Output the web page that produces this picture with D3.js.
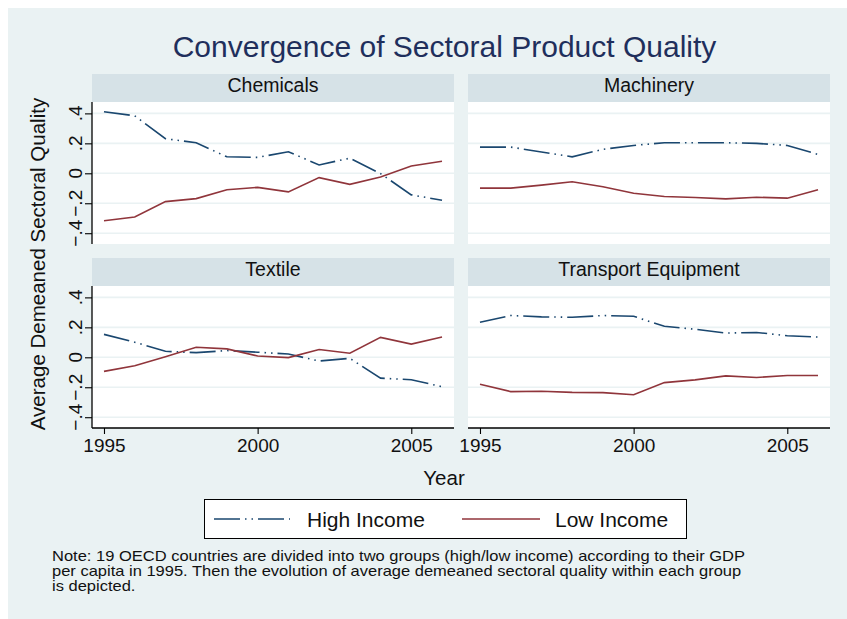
<!DOCTYPE html>
<html>
<head>
<meta charset="utf-8">
<script src="https://cdn.jsdelivr.net/npm/d3@7"></script>
<style>
  body { margin: 0; background: #fff; }
  text { font-family: "Liberation Sans", Arial, sans-serif; }
</style>
</head>
<body>
<div class="chart"></div>
<script>
var width = 847;
var height = 619;

// data
var years = [1995, 1996, 1997, 1998, 1999, 2000, 2001, 2002, 2003, 2004, 2005, 2006];
var sectors = ["Chemicals", "Machinery", "Textile", "Transport Equipment"];
var seriesNames = ["High Income", "Low Income"];

var chemicalsHigh = [0.411, 0.384, 0.231, 0.204, 0.110, 0.106, 0.144, 0.056, 0.101, -0.002, -0.144, -0.180];
var chemicalsLow  = [-0.317, -0.292, -0.189, -0.169, -0.110, -0.094, -0.124, -0.029, -0.074, -0.025, 0.049, 0.081];
var machineryHigh = [0.175, 0.175, 0.142, 0.110, 0.160, 0.186, 0.204, 0.204, 0.204, 0.200, 0.186, 0.126];
var machineryLow  = [-0.099, -0.099, -0.079, -0.056, -0.090, -0.133, -0.155, -0.162, -0.171, -0.160, -0.166, -0.110];
var textileHigh   = [0.153, 0.101, 0.040, 0.031, 0.045, 0.034, 0.022, -0.025, -0.007, -0.139, -0.150, -0.196];
var textileLow    = [-0.094, -0.056, 0.004, 0.067, 0.056, 0.009, -0.002, 0.052, 0.027, 0.133, 0.088, 0.135];
var transportHigh = [0.234, 0.279, 0.270, 0.267, 0.279, 0.274, 0.207, 0.187, 0.162, 0.166, 0.144, 0.135];
var transportLow  = [-0.180, -0.229, -0.227, -0.234, -0.236, -0.250, -0.169, -0.151, -0.124, -0.135, -0.122, -0.122];

var yTicks = [-0.4, -0.2, 0, 0.2, 0.4];
var yTickLabels = ["\u2212.4", "\u2212.2", "0", ".2", ".4"];
var xTicks = [1995, 2000, 2005];

var panelData = [
  [chemicalsHigh, chemicalsLow],
  [machineryHigh, machineryLow],
  [textileHigh, textileLow],
  [transportHigh, transportLow]
];

var colors = ["#1a476f", "#90353b"];
var dashes = ["26,5,1.5,5,1.5,5", null];

var svg = d3.select(".chart").append("svg")
    .attr("width", width)
    .attr("height", height);

// graph background
svg.append("rect")
    .attr("x", 8).attr("y", 8)
    .attr("width", width - 8).attr("height", height - 8)
    .attr("fill", "#eaf2f3");

svg.append("text")
    .attr("x", 444.5).attr("y", 57)
    .attr("text-anchor", "middle")
    .attr("font-size", 30)
    .attr("fill", "#1f2f5c")
    .text("Convergence of Sectoral Product Quality");

// panel geometry
var colX = [92, 468];
var rowY = [102, 286];
var pw = 362, ph = 142, hh = 28;

var x = d3.scaleLinear().domain([1994.61, 2006.39]).range([0, pw]);
var y = d3.scaleLinear().domain([-0.472, 0.476]).range([ph, 0]);

var line = d3.line()
    .x(function(d, i) { return x(years[i]); })
    .y(function(d) { return y(d); });

sectors.forEach(function(name, k) {
  var col = k % 2, row = Math.floor(k / 2);
  var g = svg.append("g")
      .attr("transform", "translate(" + colX[col] + "," + rowY[row] + ")");

  // header strip
  g.append("rect")
      .attr("x", 0).attr("y", -hh)
      .attr("width", pw).attr("height", hh)
      .attr("fill", "#d6e2e7");
  g.append("text")
      .attr("x", pw / 2).attr("y", -10.5)
      .attr("text-anchor", "middle")
      .attr("font-size", 19.5)
      .attr("fill", "#111")
      .text(name);

  g.append("rect")
      .attr("width", pw).attr("height", ph)
      .attr("fill", "#fff");

  // gridlines
  g.selectAll(".grid")
    .data(yTicks)
    .enter().append("line")
      .attr("class", "grid")
      .attr("x1", 0).attr("x2", pw)
      .attr("y1", function(d) { return y(d); })
      .attr("y2", function(d) { return y(d); })
      .attr("stroke", "#eaf2f3")
      .attr("stroke-width", 1.6);

  panelData[k].forEach(function(vals, s) {
    g.append("path")
        .datum(vals)
        .attr("d", line)
        .attr("fill", "none")
        .attr("stroke", colors[s])
        .attr("stroke-width", 1.6)
        .attr("stroke-dasharray", dashes[s]);
  });

  if (col === 0) {
    var ya = g.append("g")
        .call(d3.axisLeft(y).tickValues(yTicks).tickSize(7).tickFormat(""));
    ya.select(".domain").attr("d", "M0,0V" + ph).attr("stroke", "#000").attr("stroke-width", 1.3);
    ya.selectAll(".tick line").attr("stroke", "#000").attr("stroke-width", 1.1);
    g.selectAll(".ylab")
      .data(yTicks)
      .enter().append("text")
        .attr("class", "ylab")
        .attr("transform", function(d) { return "translate(-10," + y(d) + ") rotate(-90)"; })
        .attr("text-anchor", "middle")
        .attr("font-size", 19)
        .attr("fill", "#111")
        .text(function(d, i) { return yTickLabels[i]; });
  }
  if (row === 1) {
    var xa = g.append("g")
        .attr("transform", "translate(0," + ph + ")")
        .call(d3.axisBottom(x).tickValues(xTicks).tickSize(6).tickFormat(d3.format("d")));
    xa.select(".domain").attr("d", "M0,0H" + pw).attr("stroke", "#000").attr("stroke-width", 1.3);
    xa.selectAll(".tick line").attr("stroke", "#000").attr("stroke-width", 1.1);
    xa.selectAll(".tick text")
        .attr("font-family", "Liberation Sans, Arial, sans-serif")
        .attr("font-size", 19)
        .attr("fill", "#111")
        .attr("dy", "0.71em")
        .attr("y", 11);
  }
});

// axis titles
svg.append("text")
    .attr("transform", "translate(45,264) rotate(-90)")
    .attr("text-anchor", "middle")
    .attr("font-size", 20.5)
    .attr("fill", "#111")
    .text("Average Demeaned Sectoral Quality");

svg.append("text")
    .attr("x", 444).attr("y", 485)
    .attr("text-anchor", "middle")
    .attr("font-size", 20.5)
    .attr("fill", "#111")
    .text("Year");

// legend
var legend = svg.append("g");
legend.append("rect")
    .attr("x", 204.5).attr("y", 499.5)
    .attr("width", 482).attr("height", 39)
    .attr("fill", "#fff")
    .attr("stroke", "#000")
    .attr("stroke-width", 1);

var legendX = [[214, 290, 307], [462, 540, 555]];
seriesNames.forEach(function(name, s) {
  legend.append("line")
      .attr("x1", legendX[s][0]).attr("x2", legendX[s][1])
      .attr("y1", 519).attr("y2", 519)
      .attr("stroke", colors[s])
      .attr("stroke-width", 1.6)
      .attr("stroke-dasharray", dashes[s]);
  legend.append("text")
      .attr("x", legendX[s][2]).attr("y", 526.5)
      .attr("font-size", 21)
      .attr("fill", "#111")
      .text(name);
});

// note
var noteLines = [
  "Note: 19 OECD countries are divided into two groups (high/low income) according to their GDP",
  "per capita in 1995. Then the evolution of average demeaned sectoral quality within each group",
  "is depicted."
];
var notes = svg.selectAll(".note")
  .data(noteLines)
  .enter().append("text")
    .attr("class", "note")
    .attr("x", 52)
    .attr("y", function(d, i) { return 561 + i * 15; })
    .attr("font-size", 14.3)
    .attr("fill", "#111")
    .text(function(d) { return d; });

// stretch the note to the width it has in the original
var ratio = 693 / notes.node().getComputedTextLength();
notes.each(function() {
  d3.select(this)
      .attr("textLength", this.getComputedTextLength() * ratio)
      .attr("lengthAdjust", "spacingAndGlyphs");
});
</script>
</body>
</html>
